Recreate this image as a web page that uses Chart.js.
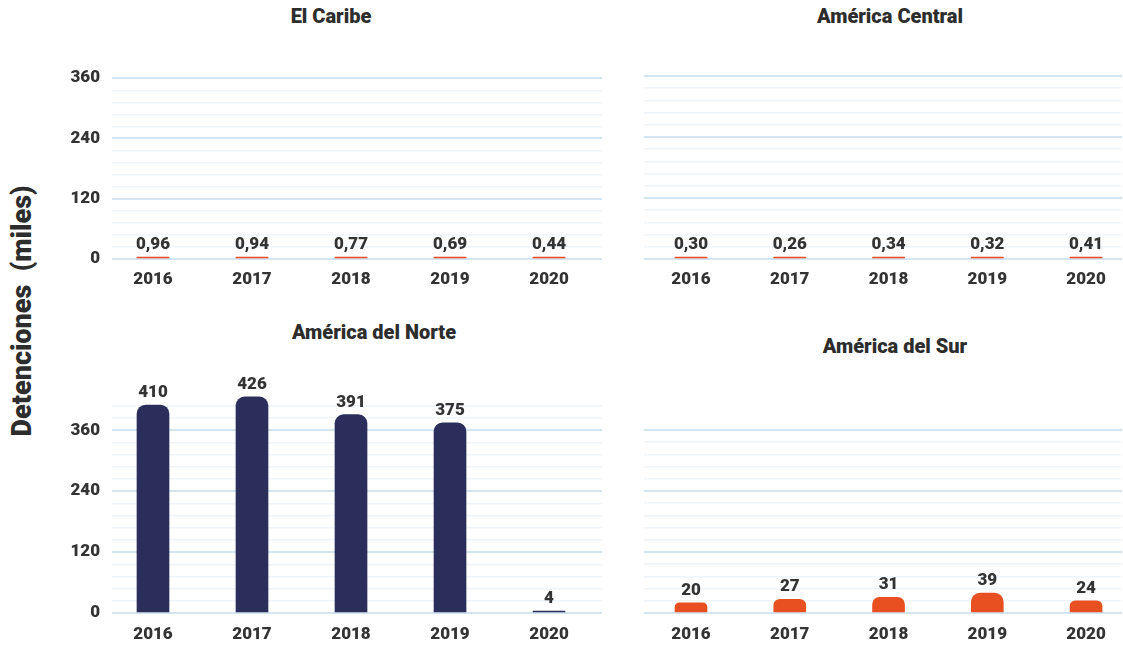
<!DOCTYPE html>
<html>
<head>
<meta charset="utf-8">
<script src="https://cdn.jsdelivr.net/npm/chart.js@4"></script>
<style>
  body { margin: 0; background: #fff; width: 1123px; height: 645px; position: relative; overflow: hidden; font-family: Roboto, sans-serif; }
  canvas { position: absolute; }
  .title { position: absolute; font-weight: 900; font-size: 20px; color: #2d2d2d; transform: translate(-50%, -50%); white-space: nowrap; }
  #ytitle { position: absolute; left: 22px; top: 311px; font-weight: 900; font-size: 27px; color: #2d2d2d; transform: translate(-50%, -50%) rotate(-90deg); white-space: nowrap; }
</style>
</head>
<body>
<div class="title" style="left:331px;top:16px">El Caribe</div>
<div class="title" style="left:890px;top:16px">América Central</div>
<div class="title" style="left:374px;top:332px">América del Norte</div>
<div class="title" style="left:895px;top:346px">América del Sur</div>
<div id="ytitle">Detenciones&nbsp; (miles)</div>

<canvas id="c1" width="610" height="240" style="left:0;top:56px"></canvas>
<canvas id="c2" width="487" height="240" style="left:636px;top:56px"></canvas>
<canvas id="c3" width="610" height="275" style="left:0;top:370px"></canvas>
<canvas id="c4" width="487" height="275" style="left:636px;top:370px"></canvas>

<script>
const years = [2016, 2017, 2018, 2019, 2020];
const caribe = [0.96, 0.94, 0.77, 0.69, 0.44];
const centralAm = [0.30, 0.26, 0.34, 0.32, 0.41];
const norteAm = [410, 426, 391, 375, 4];
const surAm = [20, 27, 31, 39, 24];
const yTickStep = 24;
const yLabelStep = 120;

const textColor = '#333333';
const fontFamily = 'Roboto, sans-serif';

// draws the value above each bar
const valueLabels = {
  id: 'valueLabels',
  afterDatasetsDraw(chart) {
    const ctx = chart.ctx;
    const ds = chart.data.datasets[0];
    const meta = chart.getDatasetMeta(0);
    ctx.save();
    ctx.font = `900 17px ${fontFamily}`;
    ctx.fillStyle = textColor;
    ctx.textAlign = 'center';
    ctx.textBaseline = 'alphabetic';
    meta.data.forEach((bar, i) => {
      const v = ds.data[i].y;
      const txt = ds.decimals ? v.toFixed(ds.decimals).replace('.', ',') : String(v);
      ctx.fillText(txt, bar.x, Math.min(bar.y, chart.scales.y.getPixelForValue(0) - 2) - 8);
    });
    ctx.restore();
  }
};

function makeChart(id, values, color, opts) {
  new Chart(document.getElementById(id), {
    type: 'bar',
    data: {
      datasets: [{
        data: years.map((y, i) => ({ x: y, y: values[i] })),
        backgroundColor: color,
        barThickness: 32,
        minBarLength: 2,
        borderRadius: { topLeft: 9, topRight: 9, bottomLeft: 0, bottomRight: 0 },
        borderSkipped: 'start',
        clip: false,
        decimals: opts.decimals
      }]
    },
    options: {
      responsive: false,
      animation: false,
      devicePixelRatio: 1,
      layout: { padding: { top: opts.top, right: opts.right, left: 0, bottom: 0 } },
      plugins: { legend: { display: false }, tooltip: { enabled: false } },
      scales: {
        x: {
          type: 'linear',
          offset: false,
          min: opts.xmin,
          max: opts.xmax,
          grid: { display: false, offset: false },
          border: { display: false },
          ticks: {
            stepSize: 1,
            includeBounds: false,
            padding: opts.xpad,
            color: textColor,
            font: { family: fontFamily, size: 17, weight: '900' },
            callback: v => String(v)
          },
          afterFit: s => { s.height = opts.xh; }
        },
        y: {
          min: 0,
          max: opts.ymax,
          border: { display: false },
          grid: {
            drawTicks: false,
            color: c => c.tick.value % yLabelStep === 0 ? '#d2e5f0' : '#eff5fa',
            lineWidth: c => c.tick.value % yLabelStep === 0 ? 2 : 1.5
          },
          ticks: {
            display: opts.showY,
            stepSize: yTickStep,
            autoSkip: false,
            padding: 12,
            color: textColor,
            font: { family: fontFamily, size: 17, weight: '900' },
            callback: v => v % yLabelStep === 0 ? String(v) : ''
          },
          afterFit: s => { s.width = opts.yw; }
        }
      }
    },
    plugins: [valueLabels]
  });
}

const leftX = { xmin: 2015.586, xmax: 2020.535 };
const rightX = { xmin: 2015.524, xmax: 2020.364 };

makeChart('c1', caribe, '#e84e22', { ...leftX, decimals: 2, top: 20, right: 8, xh: 37, xpad: 3, ymax: 360, showY: true, yw: 112 });
makeChart('c2', centralAm, '#e84e22', { ...rightX, decimals: 2, top: 20, right: 1, xh: 37, xpad: 3, ymax: 360, showY: false, yw: 8 });
makeChart('c3', norteAm, '#2b2e5a', { ...leftX, decimals: 0, top: 36, right: 8, xh: 32, xpad: 4, ymax: 408, showY: true, yw: 112 });
makeChart('c4', surAm, '#e85022', { ...rightX, decimals: 0, top: 60, right: 1, xh: 32, xpad: 4, ymax: 360, showY: false, yw: 8 });
</script>
</body>
</html>
